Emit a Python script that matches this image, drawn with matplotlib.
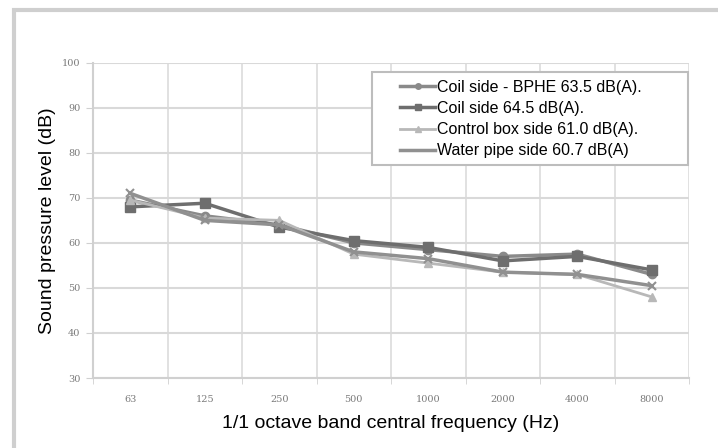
import numpy as np
import matplotlib
matplotlib.use("Agg")
import matplotlib.pyplot as plt
from matplotlib.lines import Line2D
from matplotlib.patches import Rectangle

plt.rcParams['font.family'] = ['Liberation Sans', 'DejaVu Sans']

# data
freqs = ['63', '125', '250', '500', '1000', '2000', '4000', '8000']
coil_bphe = [69.5, 66.0, 64.0, 60.0, 58.5, 57.0, 57.5, 53.0]
coil = [68.0, 68.8, 63.5, 60.5, 59.0, 56.0, 57.0, 54.0]
control_box = [69.5, 65.5, 65.0, 57.5, 55.5, 53.5, 53.0, 48.0]
water_pipe = [71.0, 65.0, 64.0, 58.0, 56.5, 53.5, 53.0, 50.5]
labels = ['Coil side - BPHE 63.5 dB(A).', 'Coil side 64.5 dB(A).',
          'Control box side 61.0 dB(A).', 'Water pipe side 60.7 dB(A)']

fig = plt.figure(figsize=(7.18, 4.48), dpi=100)
fig.patch.set_facecolor('white')

# outer chart frame
fig.patches.append(Rectangle((14 / 718, -0.05), 1.1, (448 - 10) / 448 + 0.05,
                             transform=fig.transFigure, fill=False,
                             edgecolor='#cfcfcf', linewidth=3))

ax = fig.add_axes([93 / 718, 70 / 448, (689 - 93) / 718, (378 - 62.7) / 448])
x = np.arange(len(freqs))

ax.plot(x, coil_bphe, color='#8a8a8a', lw=2.5, marker='o', ms=6, zorder=3)
ax.plot(x, coil, color='#6e6e6e', lw=2.5, marker='s', ms=7, zorder=3)
ax.plot(x, control_box, color='#b8b8b8', lw=2.0, marker='^', ms=6, zorder=3)
ax.plot(x, water_pipe, color='#909090', lw=2.5, marker='x', ms=6, mew=1.5, zorder=3)

ax.set_xlim(-0.5, len(freqs) - 0.5)
ax.set_ylim(30, 100)
ax.set_yticks(np.arange(30, 101, 10))
ax.set_xticks(x)
ax.set_xticklabels(freqs)
ax.set_xticks(np.arange(-0.5, len(freqs)), minor=True)
ax.grid(True, which='major', axis='y', color='#d9d9d9', lw=1.5)
ax.grid(True, which='minor', axis='x', color='#dcdcdc', lw=1.2)
ax.tick_params(axis='x', which='major', length=0, labelsize=7, labelcolor='#7a7a7a', pad=12)
ax.tick_params(axis='x', which='minor', length=4, color='#d0d0d0')
ax.tick_params(axis='y', length=5, color='#d0d0d0', labelsize=7, labelcolor='#7a7a7a', pad=4)
for lab in ax.get_xticklabels() + ax.get_yticklabels():
    lab.set_family(['DejaVu Serif'])
for s in ['top', 'right']:
    ax.spines[s].set_visible(False)
for s in ['left', 'bottom']:
    ax.spines[s].set_color('#d0d0d0')
    ax.spines[s].set_linewidth(1.5)

ax.set_ylabel('Sound pressure level (dB)', fontsize=14, labelpad=4)
ax.set_xlabel('1/1 octave band central frequency (Hz)', fontsize=14, labelpad=8)

# legend frame drawn by hand (wide left margin as in the original)
ax.add_patch(Rectangle((0.468, 0.676), 0.530, 0.294, transform=ax.transAxes,
                       facecolor='white', edgecolor='#bdbdbd', lw=1.5,
                       zorder=4, clip_on=False))
handles = [
    Line2D([], [], color='#8a8a8a', lw=2.5, marker='o', ms=4),
    Line2D([], [], color='#6e6e6e', lw=2.5, marker='s', ms=5),
    Line2D([], [], color='#b8b8b8', lw=2.0, marker='^', ms=4),
    Line2D([], [], color='#909090', lw=2.5),
]
leg = ax.legend(handles, labels, loc='upper left', bbox_to_anchor=(0.515, 0.946),
                fontsize=11.5, frameon=False, handlelength=2.2,
                handletextpad=0.15, labelspacing=0.39,
                borderpad=0, borderaxespad=0)
leg.set_zorder(5)

fig.savefig('out.png', dpi=100)
